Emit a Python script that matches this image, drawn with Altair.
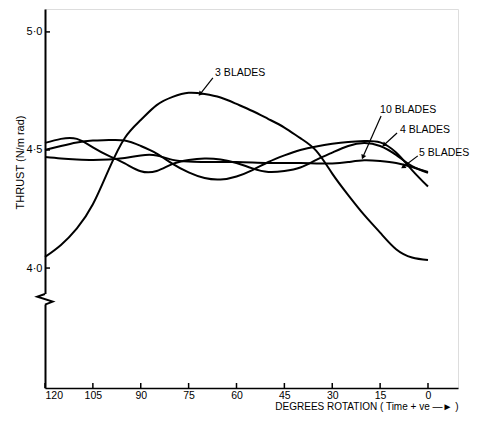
import altair as alt
import pandas as pd

# ---- data (degrees rotation, thrust N/m rad) ----
degrees = [120, 115, 110, 105, 100, 95, 90, 85, 80, 75, 70, 65, 60, 55, 50, 45, 40, 35, 30, 25, 20, 15, 10, 5, 0]
thrust_3 = [4.047, 4.098, 4.168, 4.270, 4.418, 4.551, 4.627, 4.690, 4.725, 4.742, 4.737, 4.722, 4.695, 4.665,
            4.631, 4.595, 4.550, 4.496, 4.400, 4.309, 4.225, 4.150, 4.080, 4.045, 4.034]
thrust_4 = [4.500, 4.517, 4.532, 4.540, 4.542, 4.540, 4.517, 4.485, 4.441, 4.405, 4.381, 4.375, 4.388, 4.415,
            4.449, 4.477, 4.500, 4.515, 4.526, 4.534, 4.538, 4.532, 4.489, 4.415, 4.345]
thrust_10 = [4.530, 4.547, 4.547, 4.511, 4.475, 4.443, 4.410, 4.411, 4.441, 4.458, 4.464, 4.460, 4.445, 4.422,
             4.407, 4.411, 4.426, 4.458, 4.489, 4.517, 4.530, 4.517, 4.479, 4.432, 4.407]
thrust_5 = [4.470, 4.464, 4.460, 4.458, 4.460, 4.466, 4.477, 4.477, 4.458, 4.451, 4.449, 4.449, 4.449, 4.447,
            4.445, 4.445, 4.445, 4.443, 4.443, 4.449, 4.456, 4.453, 4.445, 4.428, 4.403]

x_ticks = [0, 15, 30, 45, 60, 75, 90, 105, 120]
y_ticks = [4.0, 4.5, 5.0]

# annotations: label, text anchor, arrow start, arrow tip, arrowhead angle
ann_labels = ["3 BLADES", "10 BLADES", "4 BLADES", "5 BLADES"]
ann_text_x = [66.7, 15.0, 8.8, 2.8]
ann_text_y = [4.826, 4.669, 4.585, 4.487]
ann_from_x = [67.4, 14.7, 9.7, 3.2]
ann_from_y = [4.805, 4.644, 4.572, 4.475]
ann_to_x = [71.4, 20.4, 13.8, 7.8]
ann_to_y = [4.737, 4.470, 4.521, 4.428]
ann_angle = [219, 204, 227, 237]

# axis break zigzag
zig_x = [120, 122.4, 117.6, 120]
zig_y = [3.890, 3.879, 3.858, 3.845]

# ---- tables ----
rows = []
for name, vals in [("3 BLADES", thrust_3), ("4 BLADES", thrust_4), ("10 BLADES", thrust_10), ("5 BLADES", thrust_5)]:
    for d, v in zip(degrees, vals):
        rows.append({"deg": d, "thrust": v, "series": name})
curves = pd.DataFrame(rows)
ann = pd.DataFrame({"label": ann_labels, "tx": ann_text_x, "ty": ann_text_y, "fx": ann_from_x,
                    "fy": ann_from_y, "px": ann_to_x, "py": ann_to_y, "angle": ann_angle})
zig = pd.DataFrame({"x": zig_x, "y": zig_y, "i": list(range(len(zig_x)))})
xt = pd.DataFrame({"v": x_ticks})
yt = pd.DataFrame({"v": y_ticks})

W, H = 413, 379
xscale = alt.Scale(domain=[-9.4, 120], reverse=True, nice=False, zero=False)
yscale = alt.Scale(domain=[3.492, 5.097], nice=False, zero=False)

FONT = "Liberation Sans"

xaxis = alt.Axis(values=x_ticks, ticks=False, grid=False, labelPadding=2, labelFontSize=10.5,
                 labelFont=FONT, labelColor="black", domainColor="black", domainWidth=1.5,
                 title="DEGREES ROTATION ( Time + ve —► )", titleFontWeight="normal",
                 titleFont=FONT, titleFontSize=10, titlePadding=1, titleColor="black",
                 titleX=W, titleAlign="right")
yaxis = alt.Axis(values=y_ticks, ticks=False, grid=False, labelPadding=3, labelFontSize=11,
                 labelFont=FONT, labelColor="black", domainColor="black", domainWidth=2,
                 labelExpr="replace(format(datum.value, '.1f'), '.', '·')",
                 title="THRUST (N/m rad)", titleFontWeight="normal", titleFont=FONT, titleFontSize=11,
                 titleColor="black", titleX=-25, titleY=153, titleAngle=270, titleAlign="center",
                 titleBaseline="middle")

lines = alt.Chart(curves).mark_line(color="black", strokeWidth=2, interpolate="natural").encode(
    x=alt.X("deg:Q", scale=xscale, axis=xaxis),
    y=alt.Y("thrust:Q", scale=yscale, axis=yaxis),
    detail="series:N",
)

cover = alt.Chart(pd.DataFrame({"x": [120], "y": [zig_y[0]], "y2": [zig_y[-1]]})).mark_rule(
    color="white", strokeWidth=4).encode(x="x:Q", y="y:Q", y2="y2:Q")

zigzag = alt.Chart(zig).mark_line(color="black", strokeWidth=2).encode(
    x="x:Q", y="y:Q", order="i:Q")

ytick = alt.Chart(yt).mark_rule(color="black", strokeWidth=1.5).encode(
    y="v:Q", x=alt.value(0), x2=alt.value(5))
xtick = alt.Chart(xt).mark_rule(color="black", strokeWidth=1.5).encode(
    x="v:Q", y=alt.value(H), y2=alt.value(H - 5))

arrows = alt.Chart(ann).mark_rule(color="black", strokeWidth=1.2).encode(
    x="fx:Q", y="fy:Q", x2="px:Q", y2="py:Q")
heads = alt.Chart(ann).mark_point(shape="triangle-up", filled=True, color="black", size=28, opacity=1).encode(
    x="px:Q", y="py:Q", angle=alt.Angle("angle:Q", scale=None))
texts = alt.Chart(ann).mark_text(align="left", baseline="middle", fontSize=10.5, font=FONT, color="black").encode(
    x="tx:Q", y="ty:Q", text="label:N")

chart = alt.layer(lines, cover, zigzag, ytick, xtick, arrows, heads, texts).properties(
    width=W, height=H,
    padding={"left": 37, "top": 1, "right": 12, "bottom": 25},
    autosize=alt.AutoSizeParams(type="none"),
).configure_view(stroke=None).configure(background="white")

chart.save("out.html", embed_options={"renderer": "svg", "actions": False})
